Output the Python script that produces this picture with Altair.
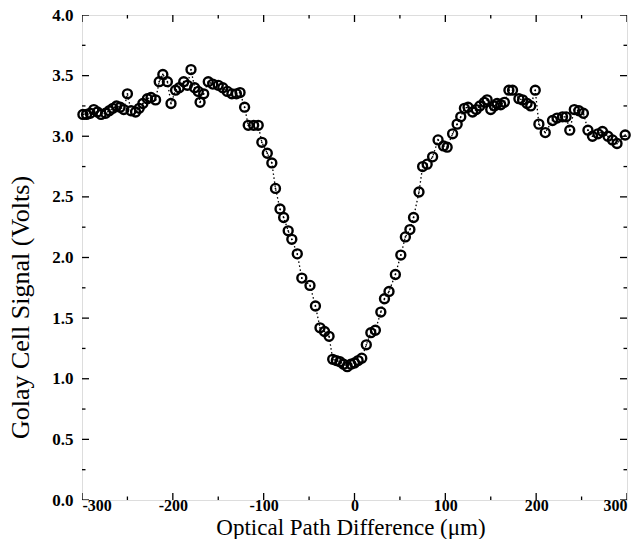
import altair as alt
import pandas as pd

# Optical path difference (um) and Golay cell signal (V)
opd = [
    -299, -295, -291, -287, -283, -279, -274, -270, -266, -262, -258, -254,
    -250, -246, -241, -237, -233, -228, -224, -219, -215, -211, -206, -202,
    -197, -193, -188, -184, -180, -176, -172, -170, -166, -161, -156, -150,
    -145, -140, -135, -130, -126, -121,
    -117, -111, -106, -102, -96, -91, -87, -82, -78, -73, -69, -63, -58,
    -49, -43, -38, -33,
    -28, -24, -20, -16, -12, -8, -4, 0, 4, 8,
    13, 18, 23, 29, 33, 38, 45, 51, 56, 61, 65, 71, 75, 80, 86, 92, 98, 102,
    108, 113, 117, 121, 125, 130, 134, 138, 143, 146, 150, 154, 157, 161, 165,
    170, 174, 181, 185, 190, 194, 199, 203, 210, 218, 223, 229, 233, 237, 242,
    247, 252, 257, 262, 268, 273, 279, 284, 289, 298,
]
signal = [
    3.18, 3.18, 3.19, 3.22, 3.20, 3.18, 3.19, 3.21, 3.23, 3.25, 3.24, 3.22,
    3.35, 3.21, 3.20, 3.23, 3.27, 3.31, 3.32, 3.30, 3.45, 3.51, 3.45, 3.27,
    3.38, 3.40, 3.45, 3.42, 3.55, 3.40, 3.37, 3.28, 3.35, 3.45, 3.43, 3.42,
    3.40, 3.37, 3.35, 3.35, 3.36, 3.24,
    3.09, 3.09, 3.09, 2.95, 2.86, 2.78, 2.57, 2.40, 2.33, 2.22, 2.15, 2.03, 1.83,
    1.77, 1.60, 1.42, 1.39,
    1.35, 1.16, 1.15, 1.14, 1.12, 1.10, 1.12, 1.13, 1.15, 1.17,
    1.28, 1.38, 1.40, 1.55, 1.66, 1.72, 1.86, 2.02, 2.17, 2.23, 2.33, 2.54, 2.75,
    2.77, 2.83, 2.97, 2.92, 2.91,
    3.02, 3.10, 3.16, 3.23, 3.24, 3.20, 3.22, 3.25, 3.28, 3.30, 3.22, 3.25, 3.27,
    3.26, 3.28, 3.38, 3.38, 3.31, 3.30, 3.27, 3.25, 3.38, 3.10, 3.03, 3.13, 3.15,
    3.16, 3.16, 3.05, 3.22, 3.21, 3.19, 3.05, 3.00, 3.02, 3.04, 3.00, 2.97, 2.94,
    3.01,
]

y_major = [0.0, 0.5, 1.0, 1.5, 2.0, 2.5, 3.0, 3.5, 4.0]
y_minor = [0.25, 0.75, 1.25, 1.75, 2.25, 2.75, 3.25, 3.75]
x_major = [-300, -200, -100, 0, 100, 200, 300]
x_minor = [-250, -150, -50, 50, 150, 250]
x_edges = [-300, 300]
y_edges = [0.0, 4.0]

df = pd.DataFrame({"opd": opd, "signal": signal})

SERIF = "Liberation Serif"
W, H = 545, 485

xs = alt.Scale(domain=[-300, 300], nice=False, zero=False)
ys = alt.Scale(domain=[0, 4], nice=False, zero=False)

x_enc = alt.X(
    "opd:Q", scale=xs,
    axis=alt.Axis(
        title="Optical Path Difference (\u03bcm)", values=x_major, ticks=False,
        labelExpr="datum.value < 0 ? '-' + format(-datum.value, 'd') : format(datum.value, 'd')",
        labelPadding=-2.5, labelFont=SERIF, labelFontSize=16,
        labelFontWeight="bold", titleFont=SERIF, titleFontSize=23,
        titleFontWeight="normal", labelColor="black", titleColor="black",
        titleBaseline="alphabetic", titleY=34, titleX=W / 2 - 4,
        domain=False, grid=False, labelFlush=True,
    ),
)
y_enc = alt.Y(
    "signal:Q", scale=ys,
    axis=alt.Axis(
        title="Golay Cell Signal (Volts)", values=y_major, format=".1f",
        ticks=False, labelPadding=9, labelFont=SERIF, labelFontSize=17,
        labelFontWeight="bold", titleFont=SERIF, titleFontSize=26,
        titleFontWeight="normal", labelColor="black", titleColor="black",
        titleX=-62, titleY=292, titleBaseline="middle", titleAlign="center",
        domain=False, grid=False, labelFlush=False,
    ),
)

base = alt.Chart(df)
line = base.mark_line(color="black", strokeWidth=1.3, strokeDash=[1.5, 2.5]).encode(
    x=x_enc, y=y_enc, order="opd:Q"
)
pts = base.mark_point(
    shape="circle", filled=False, color="black", strokeWidth=2.4, size=80, opacity=1
).encode(x=alt.X("opd:Q", scale=xs), y=alt.Y("signal:Q", scale=ys))
ctr = base.mark_point(
    shape="circle", filled=True, color="black", size=3, opacity=1
).encode(x=alt.X("opd:Q", scale=xs), y=alt.Y("signal:Q", scale=ys))

# inward ticks (half of each tick is clipped away by the frame)
def yticks(vals, size):
    d = pd.DataFrame([(e, v) for e in x_edges for v in vals], columns=["xe", "v"])
    return alt.Chart(d).mark_tick(
        orient="horizontal", size=size, thickness=1.3, color="black", clip=True, opacity=1
    ).encode(x=alt.X("xe:Q", scale=xs), y=alt.Y("v:Q", scale=ys))

def xticks(vals, size):
    d = pd.DataFrame([(e, v) for e in y_edges for v in vals], columns=["ye", "v"])
    return alt.Chart(d).mark_tick(
        orient="vertical", size=size, thickness=1.3, color="black", clip=True, opacity=1
    ).encode(x=alt.X("v:Q", scale=xs), y=alt.Y("ye:Q", scale=ys))

chart = alt.layer(
    line, pts, ctr,
    yticks(y_major, 14), yticks(y_minor, 7),
    xticks(x_major, 14), xticks(x_minor, 7),
).properties(
    width=W, height=H,
    autosize=alt.AutoSizeParams(type="none"),
    padding={"left": 82, "top": 15, "right": 10, "bottom": 39},
).configure_view(
    stroke="black", strokeWidth=1.6
).configure(background="white")

chart.save("out.html", embed_options={"renderer": "svg", "actions": False})
